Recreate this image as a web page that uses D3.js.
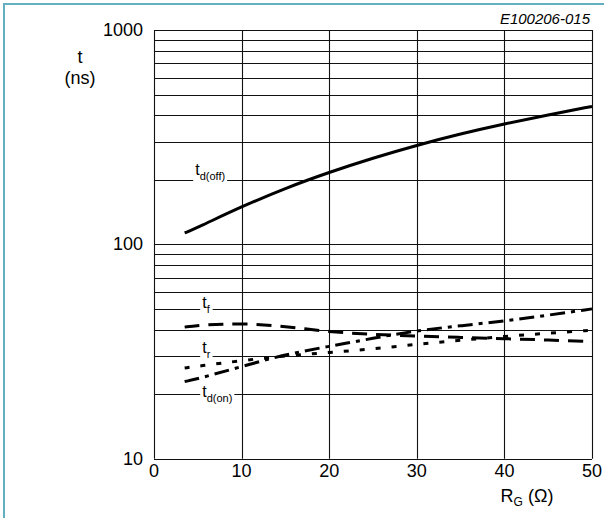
<!DOCTYPE html>
<html>
<head>
<meta charset="utf-8">
<script src="https://cdn.jsdelivr.net/npm/d3@7"></script>
<style>
  html, body { margin: 0; padding: 0; background: #fff; }
  svg { display: block; font-family: "Liberation Sans", Arial, sans-serif; }
</style>
</head>
<body>
<svg id="chart" width="604" height="518"></svg>
<script>
// ---- data ----
const rg = [3.5, 5, 10, 15, 20, 25, 30, 35, 40, 45, 50];
const tdOff = [113, 120, 150, 183, 217, 253, 290, 328, 365, 402, 440];
const tF    = [41.1, 42, 42.9, 41.5, 39, 38, 37.3, 36.8, 36.3, 35.8, 35.2];
const tR    = [26.5, 27, 28.7, 30.2, 31.3, 32.5, 34.2, 35.7, 37.2, 38.5, 39.8];
const tdOn  = [22.9, 23.6, 26.9, 30.7, 33.4, 36.5, 39.6, 41.7, 43.9, 46.7, 50];
const xTicks = [0, 10, 20, 30, 40, 50];
const yTickLabels = [10, 100, 1000];
const yGrid = [10,20,30,40,50,60,70,80,90,100,200,300,400,500,600,700,800,900,1000];
const seriesNames = ["d(off)", "f", "r", "d(on)"];
const labelAnchors = [[4.7, 211], [5.5, 50.5], [5.5, 31.2], [5.5, 19.3]];
const docCode = "E100206-015";

const svg = d3.select("#chart");
const x = d3.scaleLinear().domain([0, 50]).range([154, 592]);
const y = d3.scaleLog().domain([10, 1000]).range([458.7, 30]);

// frame (teal corner border)
svg.append("rect").attr("x", 3).attr("y", 3).attr("width", 601).attr("height", 2).attr("fill", "#62b0bf");
svg.append("rect").attr("x", 3).attr("y", 3).attr("width", 2).attr("height", 515).attr("fill", "#62b0bf");

// grid
const g = svg.append("g");
g.selectAll("line.h").data(yGrid).join("line")
  .attr("x1", x(0)).attr("x2", x(50))
  .attr("y1", d => Math.round(y(d)) + 0.5).attr("y2", d => Math.round(y(d)) + 0.5)
  .attr("stroke", "#111").attr("stroke-width", 1.1);
g.selectAll("line.v").data(xTicks).join("line")
  .attr("y1", y(1000)).attr("y2", y(10))
  .attr("x1", d => Math.round(x(d)) + 0.5).attr("x2", d => Math.round(x(d)) + 0.5)
  .attr("stroke", "#111").attr("stroke-width", 1.1);

// tick labels
svg.selectAll("text.xt").data(xTicks).join("text")
  .attr("x", d => x(d)).attr("y", 477)
  .attr("text-anchor", "middle").attr("font-size", 18).attr("fill", "#000")
  .text(d => d);
svg.selectAll("text.yt").data(yTickLabels).join("text")
  .attr("x", 143).attr("y", d => y(d) + 6)
  .attr("text-anchor", "end").attr("font-size", 18).attr("fill", "#000")
  .text(d => d);

// axis titles
svg.append("text").attr("x", 80).attr("y", 63).attr("text-anchor", "middle")
  .attr("font-size", 18).attr("fill", "#000").text("t");
svg.append("text").attr("x", 80).attr("y", 84).attr("text-anchor", "middle")
  .attr("font-size", 18).attr("fill", "#000").text("(ns)");
const xt = svg.append("text").attr("x", 527).attr("y", 502).attr("text-anchor", "middle")
  .attr("font-size", 18).attr("fill", "#000");
xt.append("tspan").text("R");
xt.append("tspan").attr("font-size", 12).attr("dy", 4).text("G");
xt.append("tspan").attr("dy", -4).text(" (\u03A9)");

svg.append("text").attr("x", 590).attr("y", 24).attr("text-anchor", "end")
  .attr("font-size", 15).attr("font-style", "italic").attr("fill", "#000").text(docCode);

// curves
const line = d3.line().x(d => x(d[0])).y(d => y(d[1])).curve(d3.curveBasis);
const series = [
  { v: tdOff, dash: null },
  { v: tF, dash: "15,9" },
  { v: tR, dash: "5,11" },
  { v: tdOn, dash: "15,6,4,6" }
];
series.forEach(s => {
  svg.append("path")
    .attr("d", line(rg.map((r, i) => [r, s.v[i]])))
    .attr("fill", "none").attr("stroke", "#000").attr("stroke-width", 3)
    .attr("stroke-dasharray", s.dash);
});

// curve labels with white background
seriesNames.forEach((name, i) => {
  const [lr, lt] = labelAnchors[i];
  const grp = svg.append("g");
  const bg = grp.append("rect").attr("fill", "#fff");
  const t = grp.append("text").attr("x", x(lr)).attr("y", y(lt))
    .attr("font-size", 16).attr("fill", "#000");
  t.append("tspan").text("t");
  t.append("tspan").attr("font-size", 11).attr("dy", 5).text(name);
  const bb = t.node().getBBox();
  bg.attr("x", bb.x - 2).attr("y", bb.y).attr("width", bb.width + 4).attr("height", bb.height);
});
</script>
</body>
</html>
